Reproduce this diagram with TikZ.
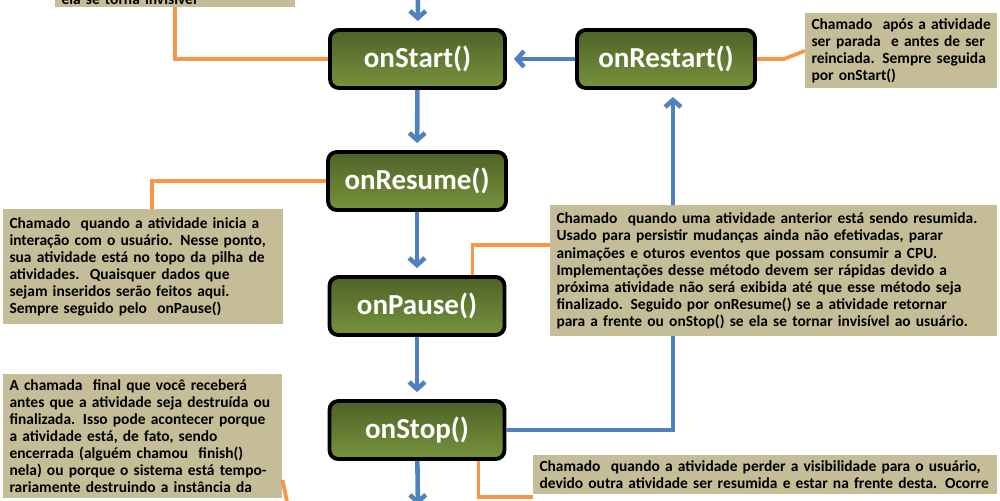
\documentclass[tikz,border=0pt]{standalone}
\usepackage{fontspec}
\setmainfont{Carlito}
\usetikzlibrary{arrows.meta}
\definecolor{flowblue}{RGB}{79,129,189}
\definecolor{linkorange}{RGB}{247,150,70}
\definecolor{notetan}{RGB}{196,189,151}
\definecolor{olivetop}{RGB}{79,98,40}
\definecolor{olivebot}{RGB}{119,147,60}
\begin{document}
\begin{tikzpicture}[x=0.02cm, y=-0.02cm, line join=miter,
    state/.style={draw=black, line width=2.2pt, rounded corners=5pt, top color=olivetop, bottom color=olivebot, text=white, font=\fontsize{16.5}{19}\selectfont\bfseries, minimum width=3.5cm, minimum height=1.16cm},
    note/.style={fill=notetan, anchor=north west, align=left, inner xsep=3.5pt, inner ysep=3pt, font=\fontsize{8.8}{9.7}\selectfont\bfseries},
    flow/.style={draw=flowblue, line width=2.6pt, shorten >=4pt, -{Straight Barb[length=4pt,width=9pt]}},
    link/.style={draw=linkorange, line width=2.1pt}]
        \useasboundingbox (0,0) rectangle (1000,500);
        \clip (0,0) rectangle (1000,500);
        % lifecycle states
        \node[state] (start) at (417.5,59) {onStart()};
        \node[state, minimum width=3.56cm] (restart) at (666,59) {onRestart()};
        \node[state, minimum width=3.56cm] (resume) at (417,181) {onResume()};
        \node[state] (pause) at (417,306) {onPause()};
        \node[state] (stop) at (417,430) {onStop()};
        \coordinate (entry) at (418,-20);
        \coordinate (exit) at (418,512);
        \coordinate (destroyin) at (293,530);
        % transitions
        \draw[flow] (entry) -- (start);
        \draw[flow] (start) -- (resume);
        \draw[flow] (resume) -- (pause);
        \draw[flow] (pause) -- (stop);
        \draw[flow] (stop) -- (exit);
        \draw[flow] (restart) -- (start);
        \draw[flow] (stop.east) -| ([xshift=0.14cm]restart.south);
        % notes
        \node[note, anchor=south west, inner ysep=1pt, text width=4.55cm] (visbox) at (55,7) {ela se torna invisível};
        \node[note, text width=3.59cm, minimum height=1.48cm] (restartbox) at (805,13) {Chamado\ \ após a atividade\\ser parada\ \ e antes de ser\\reinciada. Sempre seguida\\por onStart()};
        \node[note, text width=5.35cm, minimum height=2.3cm] (resumebox) at (3,209) {Chamado\ \ quando a atividade inicia a\\interação com o usuário. Nesse ponto,\\sua atividade está no topo da pilha de\\atividades.\ \ Quaisquer dados que\\sejam inseridos serão feitos aqui.\\Sempre seguido pelo\ \ onPause()};
        \node[note, text width=8.69cm, minimum height=2.62cm] (pausebox) at (550,205) {Chamado\ \ quando uma atividade anterior está sendo resumida.\\Usado para persistir mudanças ainda não efetivadas, parar\\animações e oturos eventos que possam consumir a CPU.\\Implementações desse método devem ser rápidas devido a\\próxima atividade não será exibida até que esse método seja\\finalizado. Seguido por onResume() se a atividade retornar\\para a frente ou onStop() se ela se tornar invisível ao usuário.};
        \node[note, text width=5.33cm] (destroybox) at (3,374) {A chamada\ \ final que você receberá\\antes que a atividade seja destruída ou\\finalizada. Isso pode acontecer porque\\a atividade está, de fato, sendo\\encerrada (alguém chamou\ \ finish()\\nela) ou porque o sistema está tempo-\\rariamente destruindo a instância da};
        \node[note, text width=9.03cm] (stopbox) at (533,455) {Chamado\ \ quando a atividade perder a visibilidade para o usuário,\\devido outra atividade ser resumida e estar na frente desta. Ocorre};
        % note links
        \draw[link] (visbox.south) |- (start.west);
        \draw[link] (restart.east) -- ++(27,0) -- (restartbox.west);
        \draw[link] (resume.west) -| ([xshift=0.18cm]resumebox.north);
        \draw[link] ([xshift=-0.68cm]pause.north east) |- ([yshift=0.52cm]pausebox.west);
        \draw[link] ([xshift=-0.56cm]stop.south east) |- ([yshift=-0.84cm]stopbox.north west);
        \draw[link] ([yshift=-2.12cm]destroybox.north east) -- (destroyin);
\end{tikzpicture}
\end{document}
